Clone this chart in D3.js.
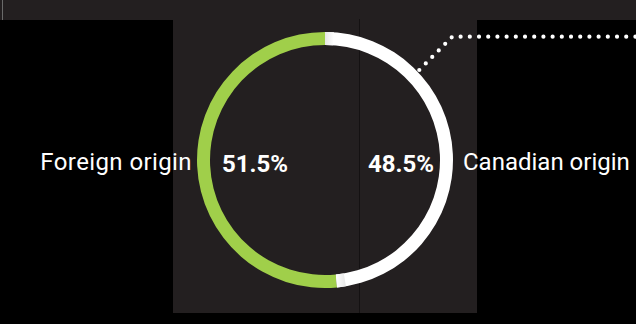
<!DOCTYPE html>
<html><head><meta charset="utf-8">
<script src="https://cdn.jsdelivr.net/npm/d3@7"></script>
<style>html,body{margin:0;padding:0;background:#000;}svg{display:block;}</style>
</head><body>
<script>
const categories = ["Foreign origin", "Canadian origin"];
const values = [51.5, 48.5];
const valueLabels = ["51.5%", "48.5%"];
const colors = ["#a0cf4a", "#ffffff"];

const W = 636, H = 324;
const svg = d3.select("body").append("svg").attr("width", W).attr("height", H);

// background
svg.append("rect").attr("x",0).attr("y",0).attr("width",W).attr("height",H).attr("fill","#000");
svg.append("rect").attr("x",0).attr("y",0).attr("width",W).attr("height",20).attr("fill","#231f20");
svg.append("rect").attr("x",173).attr("y",20).attr("width",304).attr("height",293).attr("fill","#231f20");
svg.append("line").attr("x1",2.5).attr("x2",2.5).attr("y1",0).attr("y2",20).attr("stroke","#6a6a6a").attr("stroke-width",1);
svg.append("line").attr("x1",359.5).attr("x2",359.5).attr("y1",19).attr("y2",313).attr("stroke","#141112").attr("stroke-width",1);

const cx = 325, cy = 160, R = 128, r = 115;
const g = svg.append("g").attr("transform", `translate(${cx},${cy})`);

const total = d3.sum(values);
const angle = d3.scaleLinear().domain([0, total]).range([0, 2*Math.PI]);
const arc = d3.arc().innerRadius(r).outerRadius(R);

// Foreign origin counterclockwise from top, Canadian clockwise from top
const aF = angle(values[0]);
const aC = angle(values[1]);
const slices = [
  {start: -aF, end: 0, color: colors[0]},
  {start: 0, end: aC, color: colors[1]}
];
g.selectAll("path.slice").data(slices).join("path")
  .attr("class","slice")
  .attr("d", d => arc({startAngle: d.start, endAngle: d.end}))
  .attr("fill", d => d.color);

// subtle shading at the white arc start/end
const defs = svg.append("defs");
const gr1 = defs.append("linearGradient").attr("id","sh1").attr("x1","0").attr("x2","1").attr("y1","0").attr("y2","0");
gr1.append("stop").attr("offset","0").attr("stop-color","#e6e6e6");
gr1.append("stop").attr("offset","1").attr("stop-color","#ffffff");
const gr2 = defs.append("linearGradient").attr("id","sh2").attr("x1","1").attr("x2","0").attr("y1","0").attr("y2","0");
gr2.append("stop").attr("offset","0").attr("stop-color","#e6e6e6");
gr2.append("stop").attr("offset","1").attr("stop-color","#ffffff");
const da = 0.07;
g.append("path").attr("d", arc({startAngle: 0, endAngle: da})).attr("fill","url(#sh1)");
g.append("path").attr("d", arc({startAngle: aC - da, endAngle: aC})).attr("fill","url(#sh2)");

// labels
svg.append("text").attr("x", cx - R - 5).attr("y", 170).attr("text-anchor","end")
  .attr("font-family","Roboto").attr("font-size",24).attr("letter-spacing",0.4).attr("fill","#fff").text(categories[0]);
svg.append("text").attr("x", cx + R + 10).attr("y", 170).attr("text-anchor","start")
  .attr("font-family","Roboto").attr("font-size",24).attr("fill","#fff").text(categories[1]);
svg.append("text").attr("x", cx - r + 12).attr("y", 171.5).attr("text-anchor","start")
  .attr("font-family","Roboto").attr("font-weight","bold").attr("font-size",24).attr("fill","#fff").text(valueLabels[0]);
svg.append("text").attr("x", cx + r - 6).attr("y", 171.5).attr("text-anchor","end")
  .attr("font-family","Roboto").attr("font-weight","bold").attr("font-size",24).attr("fill","#fff").text(valueLabels[1]);

// dotted leader line
const leader = d3.line()([[419.3,70],[452.3,36.7],[W+5,36.7]]);
svg.append("path").attr("d", leader).attr("fill","none").attr("stroke","#fff")
  .attr("stroke-width",4.2).attr("stroke-linecap","round").attr("stroke-dasharray","0 9.2");
</script>
</body></html>
